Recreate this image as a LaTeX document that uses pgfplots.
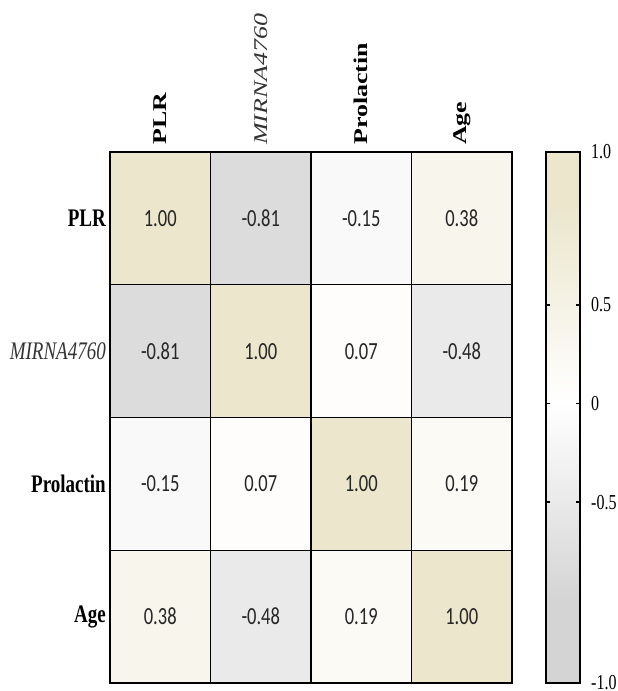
\documentclass[border=0pt]{standalone}
\usepackage{fontspec}
\setmainfont{Liberation Serif}
\newfontfamily\cellfont{Carlito}
\usepackage{pgfplots}
\pgfplotsset{compat=1.18}
\definecolor{cbeige}{HTML}{EBE6CC}
\definecolor{cgray}{HTML}{D4D4D4}
\pgfplotsset{colormap={corrmap}{color(0cm)=(cgray); color(0.416cm)=(cgray); color(1.416cm)=(white); color(2.416cm)=(cbeige); color(2.69cm)=(cbeige)}}
\newcommand{\vs}[1]{\scalebox{1}[1.33]{#1}}
\newcommand{\tl}[1]{\scalebox{1}[1.33]{\rotatebox{90}{#1}}}
\pgfplotstableread{
x y c
0 0 1.00
1 0 -0.81
2 0 -0.15
3 0 0.38
0 1 -0.81
1 1 1.00
2 1 0.07
3 1 -0.48
0 2 -0.15
1 2 0.07
2 2 1.00
3 2 0.19
0 3 0.38
1 3 -0.48
2 3 0.19
3 3 1.00
}\corrdata
\begin{document}
\begin{tikzpicture}
\begin{axis}[
  at={(110bp,8bp)}, anchor=south west,
  scale only axis, width=402bp, height=531bp,
  xmin=-0.5, xmax=3.5, ymin=-0.5, ymax=3.5, y dir=reverse,
  enlargelimits=false,
  axis on top,
  axis line style={line width=2.4bp},
  xtick={0,1,2,3}, ytick={0,1,2,3},
  xticklabel pos=top,
  major tick length=0pt,
  minor xtick={0.5,1.5,2.5}, minor ytick={0.5,1.5,2.5},
  xminorgrids, yminorgrids,
  minor grid style={black, line width=1.2bp},
  minor tick length=0pt,
  xticklabels={\tl{\bfseries PLR},\tl{\color{black!80}\itshape MIRNA4760},\tl{\bfseries Prolactin},\tl{\bfseries Age}},
  yticklabels={\vs{\bfseries PLR},\vs{\color{black!80}\itshape MIRNA4760},\vs{\bfseries Prolactin},\vs{\bfseries Age}},
  xticklabel style={font=\fontsize{19.5bp}{22bp}\selectfont, anchor=south, inner sep=0pt, yshift=7bp},
  yticklabel style={font=\fontsize{19bp}{22bp}\selectfont, anchor=east, inner sep=0pt, xshift=-4bp},
  point meta min=-1.416, point meta max=1.274,
  colormap name=corrmap,
  colorbar,
  colorbar/width=34bp,
  colorbar style={
    at={(parent axis.north east)}, anchor=north west, xshift=25.5bp,
    axis line style={line width=2bp},
    ytick={-0.5,0,0.5},
    yticklabels={\vs{-0.5},\vs{0},\vs{0.5}},
    extra y ticks={-1.416,1.274},
    extra y tick labels={\vs{-1.0},\vs{1.0}},
    extra y tick style={major tick length=0pt},
    yticklabel pos=right,
    ytick pos=both,
    tick align=inside,
    major tick length=4bp,
    tick style={black, line width=1.5bp},
    yticklabel style={font=\fontsize{16bp}{18bp}\selectfont, anchor=west, inner sep=0pt, xshift=11bp},
  },
]
\addplot[matrix plot*, mesh/cols=4, point meta=explicit] table[x=x, y=y, meta=c] {\corrdata};
\addplot[draw=none, mark=none, point meta=explicit symbolic,
  nodes near coords={\vs{\pgfplotspointmeta}},
  nodes near coords align=center,
  nodes near coords style={anchor=center, inner sep=0pt, text=black!85, font=\cellfont\fontsize{18.5bp}{22bp}\selectfont}]
  table[x=x, y=y, meta=c] {\corrdata};
\end{axis}
\pgfresetboundingbox
\path[use as bounding box] (0,0) rectangle (618bp,691bp);
\end{tikzpicture}
\end{document}
